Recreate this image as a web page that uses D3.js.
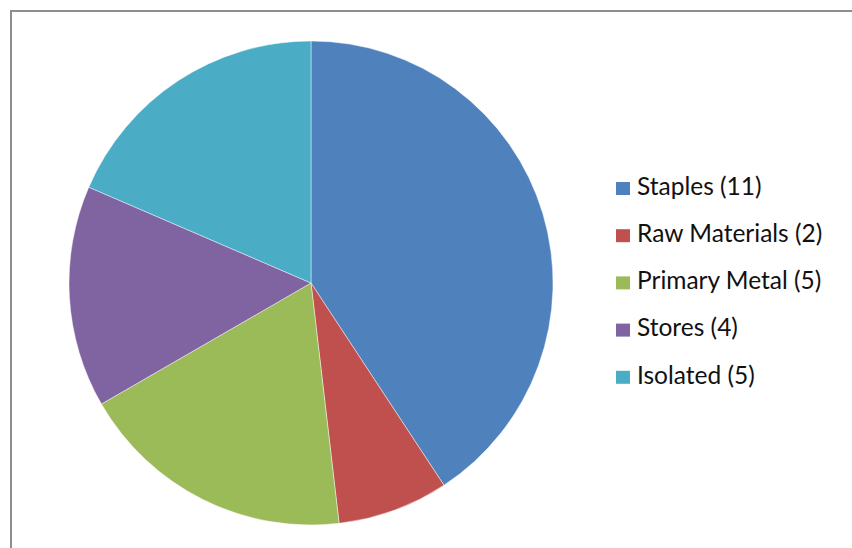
<!DOCTYPE html>
<html>
<head>
<meta charset="utf-8">
<script src="https://cdn.jsdelivr.net/npm/d3@7"></script>
<style>
  html, body { margin: 0; padding: 0; background: #fff; }
  svg { display: block; }
</style>
</head>
<body>
<script>
// chart data
var categories = ['Staples', 'Raw Materials', 'Primary Metal', 'Stores', 'Isolated'];
var counts = [11, 2, 5, 4, 5];
var colors = ['#4f81bd', '#c0504d', '#9bbb59', '#8064a2', '#4bacc6'];

var width = 852, height = 548,
    cx = 311, cy = 283, radius = 242;

var svg = d3.select('body').append('svg')
  .attr('width', width)
  .attr('height', height);

// chart frame (runs off the right and bottom edge)
svg.append('rect')
  .attr('x', 11)
  .attr('y', 11)
  .attr('width', width + 20)
  .attr('height', height + 20)
  .attr('fill', '#fff')
  .attr('stroke', '#8e8e8e')
  .attr('stroke-width', 2);

var pie = d3.pie().sort(null).value(function (d) { return d; });
var arc = d3.arc().innerRadius(0).outerRadius(radius);
var color = d3.scaleOrdinal().domain(categories).range(colors);

var slices = svg.append('g')
  .attr('transform', 'translate(' + cx + ',' + cy + ')');

slices.selectAll('path')
  .data(pie(counts))
  .enter().append('path')
  .attr('d', arc)
  .attr('fill', function (d, i) { return color(categories[i]); })
  .attr('stroke', 'rgba(255,255,255,0.45)')
  .attr('stroke-width', 1);

// legend
var legend = svg.append('g')
  .attr('transform', 'translate(616,186)');

var rows = legend.selectAll('g')
  .data(categories)
  .enter().append('g')
  .attr('transform', function (d, i) { return 'translate(0,' + (i * 47.2) + ')'; });

rows.append('rect')
  .attr('x', 0)
  .attr('y', -4)
  .attr('width', 14)
  .attr('height', 13)
  .attr('fill', function (d) { return color(d); });

rows.append('text')
  .attr('x', 21)
  .attr('y', 0)
  .attr('dy', '0.36em')
  .attr('font-family', 'Lato, "Open Sans", sans-serif')
  .attr('font-size', 24.5)
  .attr('fill', '#111')
  .text(function (d, i) { return d + ' (' + counts[i] + ')'; });
</script>
</body>
</html>
